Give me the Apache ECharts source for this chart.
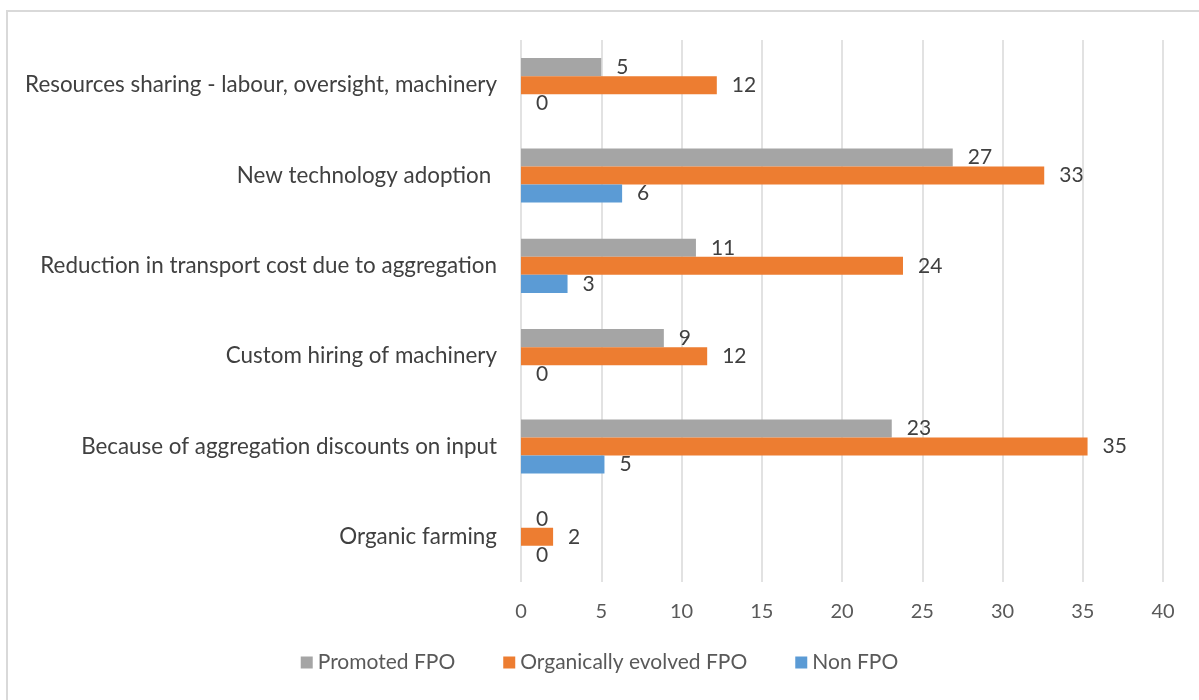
<!DOCTYPE html>
<html>
<head>
<meta charset="utf-8">
<script src="https://cdn.jsdelivr.net/npm/echarts@6/dist/echarts.min.js"></script>
<style>
    html, body { margin: 0; padding: 0; background: #fff; overflow: hidden; }
    .frame {
        position: absolute; left: 6px; top: 10px;
        width: 1200px; height: 700px;
        border: 2px solid #d9d9d9;
    }
    #barTrend { position: absolute; left: 0; top: 0; width: 1199px; height: 700px; }
</style>
</head>
<body>
<div class="frame"></div>
<div id="barTrend"></div>
<script>
    // categories, bottom to top as on the axis
    const categories = [
        "Organic farming",
        "Because of aggregation discounts on input",
        "Custom hiring of machinery",
        "Reduction in transport cost due to aggregation",
        "New technology adoption ",
        "Resources sharing - labour, oversight, machinery"
    ];
    // bar lengths (labels show them rounded)
    const promotedFPO = [0, 23.1, 8.9, 10.9, 26.9, 5.0];
    const organicFPO = [2.0, 35.3, 11.6, 23.8, 32.6, 12.2];
    const nonFPO = [0, 5.2, 0, 2.9, 6.3, 0];
    const xTicks = { min: 0, max: 40, interval: 5 };
    const legendNames = ["Promoted FPO", "Organically evolved FPO", "Non FPO"];
    const colors = { promoted: "#a5a5a5", organic: "#ed7d31", non: "#5b9bd5" };

    const font = "Lato, 'Liberation Sans', sans-serif";
    const chart = echarts.init(document.getElementById("barTrend"));

    const label = {
        show: true,
        position: "right",
        distance: 15,
        color: "#404040",
        fontSize: 21,
        fontFamily: font,
        padding: [3, 0, 0, 0],
        formatter: p => Math.round(p.value)
    };

    const option = {
        animation: false,
        textStyle: { fontFamily: font },
        legend: {
            data: legendNames,
            bottom: 22,
            left: "center",
            icon: "rect",
            itemWidth: 12,
            itemHeight: 12,
            itemGap: 48,
            textStyle: { color: "#595959", fontSize: 21, fontFamily: font }
        },
        grid: { left: 521, right: 36, top: 40, bottom: 118 },
        xAxis: {
            type: "value",
            min: xTicks.min,
            max: xTicks.max,
            interval: xTicks.interval,
            axisLine: { show: false },
            axisTick: { show: false },
            axisLabel: { color: "#595959", fontSize: 20, margin: 20, fontFamily: font },
            splitLine: { lineStyle: { color: "#d9d9d9", width: 1.5 } }
        },
        yAxis: {
            type: "category",
            data: categories,
            axisLine: { show: false },
            axisTick: { show: false },
            axisLabel: { color: "#404040", fontSize: 22.4, margin: 24, fontFamily: font }
        },
        series: [
            { name: "Promoted FPO", type: "bar", barGap: "0%", barCategoryGap: "40%",
              color: colors.promoted, label: label, data: promotedFPO },
            { name: "Organically evolved FPO", type: "bar", barGap: "0%", barCategoryGap: "40%",
              color: colors.organic, label: label, data: organicFPO },
            { name: "Non FPO", type: "bar", barGap: "0%", barCategoryGap: "40%",
              color: colors.non, label: label, data: nonFPO }
        ]
    };
    chart.setOption(option);
</script>
</body>
</html>
